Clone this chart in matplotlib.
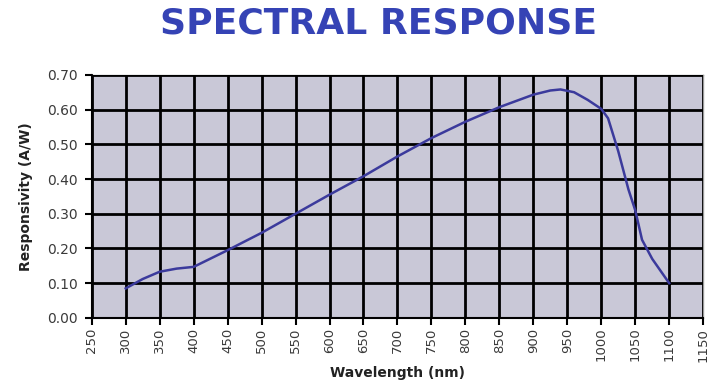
import numpy as np
import matplotlib.pyplot as plt

# Data
wavelength = [300, 325, 350, 375, 400, 450, 500, 550, 600, 650, 700, 750, 800,
              850, 900, 925, 940, 960, 980, 1000, 1010, 1025, 1040, 1050, 1060,
              1075, 1100]
responsivity = [0.085, 0.112, 0.133, 0.142, 0.147, 0.195, 0.245, 0.300, 0.355,
                0.408, 0.465, 0.518, 0.565, 0.607, 0.643, 0.655, 0.658, 0.650,
                0.628, 0.602, 0.575, 0.48, 0.37, 0.31, 0.225, 0.17, 0.10]
xticks = np.arange(250, 1151, 50)
yticks = np.arange(0, 0.71, 0.1)

plt.rcParams['font.family'] = ['DejaVu Sans']

fig = plt.figure(figsize=(7.11, 3.92), dpi=100)
ax = fig.add_axes([0.129, 0.189, 0.86, 0.62])
ax.set_facecolor('#c9c8d7')

ax.plot(wavelength, responsivity, color='#3b3a9c', linewidth=1.8, zorder=3)

ax.set_xlim(250, 1150)
ax.set_ylim(0, 0.70)
ax.set_xticks(xticks)
ax.set_yticks(yticks)
ax.set_xticklabels([str(v) for v in xticks], rotation=90, fontsize=9.5, color='#3a3a3a')
ax.set_yticklabels(['%.2f' % v for v in yticks], fontsize=10, color='#3a3a3a')
ax.grid(True, color='black', linewidth=2)
ax.set_axisbelow(False)
ax.tick_params(direction='out', length=5, width=1.5, color='black')
ax.tick_params(axis='x', pad=2)
ax.tick_params(axis='y', pad=5)

for s in ['top', 'right']:
    ax.spines[s].set_color('#999999')
    ax.spines[s].set_linewidth(1)
for s in ['left', 'bottom']:
    ax.spines[s].set_color('black')
    ax.spines[s].set_linewidth(1.5)

ax.set_xlabel('Wavelength (nm)', fontsize=10, fontweight='bold', color='#222222', labelpad=3)
ax.set_ylabel('Responsivity (A/W)', fontsize=10, fontweight='bold', color='#222222', labelpad=10)

fig.text(0.533, 0.94, 'SPECTRAL RESPONSE', ha='center', va='center',
         fontsize=26, fontweight='bold', color='#3543b5')

fig.savefig('out.png', dpi=100)
